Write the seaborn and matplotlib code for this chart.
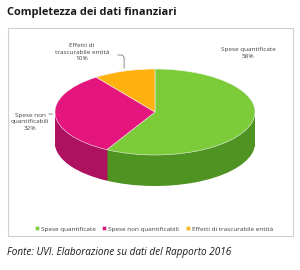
import numpy as np
import matplotlib
matplotlib.use("Agg")
import matplotlib.pyplot as plt
import matplotlib.patches as mpatches
import seaborn as sns

# Dati del grafico
categorie = ["Spese quantificate", "Spese non quantificabili", "Effetti di trascurabile entità"]
etichette = ["Spese quantificate", "Spese non\nquantificabili", "Effetti di\ntrascurabile entità"]
percentuali = [58, 32, 10]

colori = ["#7ccc3a", "#e4157c", "#ffb10f"]
colori_lato = ["#4f9322", "#ad115f", "#c98a05"]

sns.set_theme(style="white")
plt.rcParams["font.family"] = ["Open Sans", "DejaVu Sans"]

W, H = 300, 270
fig = plt.figure(figsize=(W / 100, H / 100), dpi=100)

# riquadro del grafico
fig.patches.append(mpatches.Rectangle((8 / W, 1 - 236 / H), 285 / W, 208 / H,
                                      transform=fig.transFigure, fill=False,
                                      edgecolor="#cfcfcf", linewidth=0.8))

# assi in cui il raggio x = 100 px e il raggio y = 43 px (vista in prospettiva)
cx, cy, rx, ry = 155, 112, 100, 43
ax = fig.add_axes([0, 0, 1, 1])
profondita = 31 / ry

# lato del cilindro: pile di torte scure
for dy in np.linspace(profondita, 0.02, 40):
    ax.pie(percentuali, colors=colori_lato, startangle=90, counterclock=False,
           center=(0, -dy), wedgeprops=dict(linewidth=0))

wedges, _ = ax.pie(percentuali, colors=colori, startangle=90, counterclock=False,
                   center=(0, 0), wedgeprops=dict(linewidth=0.4, edgecolor="#f2f2f2"))

ax.set_aspect("auto")
ax.set_xlim(-cx / rx, (W - cx) / rx)
ax.set_ylim((cy - H) / ry, cy / ry)
ax.axis("off")

fs = 4.6
# etichette
fig.text(248 / W, 1 - 53 / H, etichette[0] + f"\n{percentuali[0]}%", ha="center", va="center",
         fontsize=fs, color="#404040", linespacing=1.3)
fig.text(30 / W, 1 - 122 / H, etichette[1] + f"\n{percentuali[1]}%", ha="center", va="center",
         fontsize=fs, color="#404040", linespacing=1.3)
fig.text(82 / W, 1 - 52 / H, etichette[2] + f"\n{percentuali[2]}%", ha="center", va="center",
         fontsize=fs, color="#404040", linespacing=1.3)

# linee guida verso le fette
for w, start in zip(wedges[1:], [(46, 114), (115, 55)]):
    mid = np.deg2rad((w.theta1 + w.theta2) / 2)
    punto = (np.cos(mid), np.sin(mid))
    ax.annotate("", xy=punto, xytext=((start[0] - cx) / rx, (cy - start[1]) / ry),
                arrowprops=dict(arrowstyle="-", color="#606060", linewidth=0.5,
                                connectionstyle="angle,angleA=0,angleB=90,rad=3"))

fig.legend(wedges, categorie, loc="center", bbox_to_anchor=(0.513, 1 - 229 / H),
           ncol=3, frameon=False, fontsize=fs, handlelength=0.6, handleheight=0.6,
           handletextpad=0.3, columnspacing=1.1, labelcolor="#404040")

fig.text(7 / W, 1 - 13 / H, "Completezza dei dati finanziari", fontsize=7.9,
         fontweight="bold", color="#1a1a1a", ha="left", va="center")
fig.text(7 / W, 1 - 252 / H, "Fonte: UVI. Elaborazione su dati del Rapporto 2016",
         fontsize=7.2, style="italic", color="#1a1a1a", ha="left", va="center")

fig.savefig("out.png", dpi=100)
